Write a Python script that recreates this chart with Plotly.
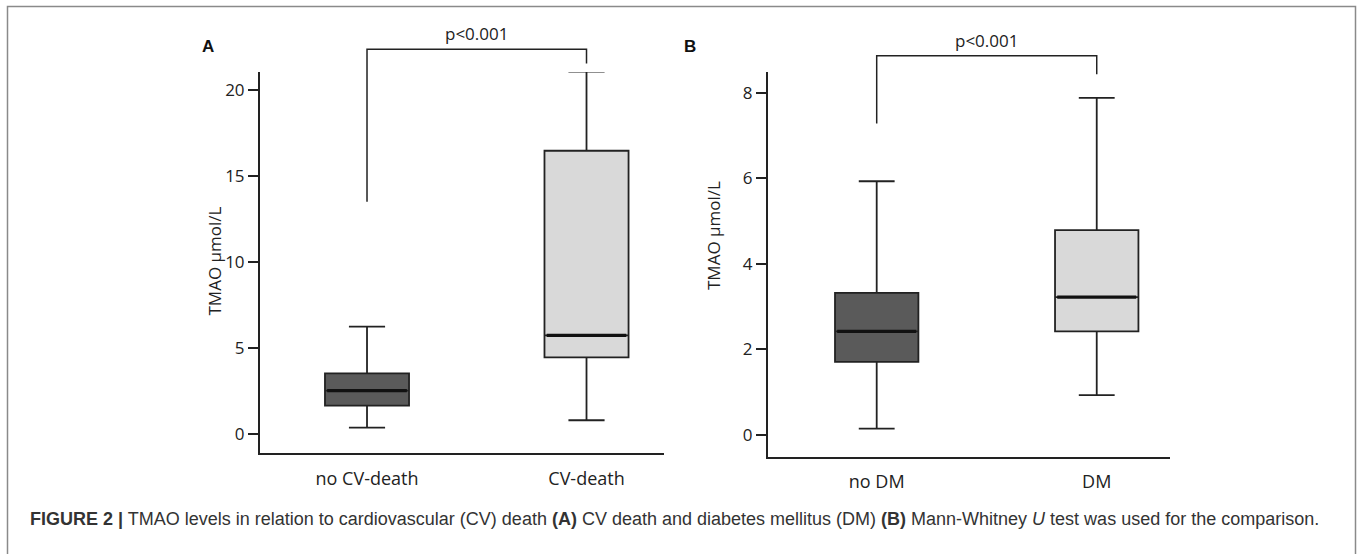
import plotly.graph_objects as go

# ---------------- data ----------------
cats_A = ["no CV-death", "CV-death"]
lowerA = [0.37, 0.80]
q1A = [1.65, 4.46]
medA = [2.52, 5.74]
q3A = [3.53, 16.47]
upperA = [6.24, 21.08]
bracketA = [13.5, 22.37, 21.55]   # left leg end, top, right leg end
pA = "p<0.001"

cats_B = ["no DM", "DM"]
lowerB = [0.15, 0.93]
q1B = [1.71, 2.42]
medB = [2.42, 3.22]
q3B = [3.32, 4.79]
upperB = [5.93, 7.88]
bracketB = [7.28, 8.86, 8.43]
pB = "p<0.001"

ticksA = [0, 5, 10, 15, 20]
ticksB = [0, 2, 4, 6, 8]
ytitle = "TMAO µmol/L"
caption = ("<b>FIGURE 2 |</b> TMAO levels in relation to cardiovascular (CV) death <b>(A)</b> "
           "CV death and diabetes mellitus (DM) <b>(B)</b> Mann-Whitney <i>U</i> test was used for the comparison.")

# ---------------- layout helpers ----------------
W, H = 1358, 554
def fx(p):
    return p / W
def fy(p):
    return 1 - p / H

DARK = "#222222"
FILL = ["#5a5a5a", "#d9d9d9"]
FONT = "Open Sans"

fig = go.Figure()

def add_panel(n, cats, lo, q1, med, q3, up, bracket, ptxt, bw):
    xa = "x" if n == 1 else f"x{n}"
    ya = "y" if n == 1 else f"y{n}"
    xo = f"x{n + 2}"
    yo = f"y{n + 2}"
    for i in range(len(cats)):
        fig.add_trace(go.Box(
            x=[i], q1=[q1[i]], median=[med[i]], q3=[q3[i]],
            lowerfence=[lo[i]], upperfence=[up[i]],
            width=bw, whiskerwidth=0.43, fillcolor=FILL[i],
            line=dict(color=DARK, width=1.8), boxpoints=False,
            xaxis=xa, yaxis=ya, showlegend=False, hoverinfo="skip"))
        fig.add_trace(go.Scatter(
            x=[i - bw / 2 + 0.01, i + bw / 2 - 0.01], y=[med[i], med[i]],
            mode="lines", line=dict(color="#111111", width=3.2),
            xaxis=xa, yaxis=ya, showlegend=False, hoverinfo="skip"))
    # significance bracket (on overlay axes sharing the same scale)
    fig.add_trace(go.Scatter(
        x=[0, 0, 1, 1], y=[bracket[0], bracket[1], bracket[1], bracket[2]],
        mode="lines", line=dict(color=DARK, width=1.5),
        xaxis=xo, yaxis=yo, showlegend=False, hoverinfo="skip"))
    fig.add_annotation(x=0.5, y=bracket[1], xref=xo, yref=yo, text=ptxt,
                       showarrow=False, yanchor="bottom", yshift=2,
                       font=dict(family=FONT, size=17, color=DARK))

add_panel(1, cats_A, lowerA, q1A, medA, q3A, upperA, bracketA, pA, 0.383)
add_panel(2, cats_B, lowerB, q1B, medB, q3B, upperB, bracketB, pB, 0.379)

# axis geometry (pixels)
A = dict(x0=260, x1=664, top=72, bot=453, xr=[-0.4875, 1.353], yr=[-1.105, 21.05])
B = dict(x0=768, x1=1170, top=71.7, bot=456.7, xr=[-0.494, 1.333], yr=[-0.507, 8.49])
OVER_TOP = 15

def axes(g, cats, ticks, n):
    xname = "xaxis" if n == 1 else f"xaxis{n}"
    yname = "yaxis" if n == 1 else f"yaxis{n}"
    xdom = [fx(g["x0"]), fx(g["x1"])]
    ydom = [fy(g["bot"]), fy(g["top"])]
    lay = {}
    lay[xname] = dict(domain=xdom, range=g["xr"], tickvals=[0, 1], ticktext=cats,
                      showline=True, linecolor=DARK, linewidth=2, showgrid=False,
                      zeroline=False, ticks="outside", ticklen=8,
                      tickcolor="rgba(0,0,0,0)", automargin=False,
                      anchor="y" if n == 1 else f"y{n}",
                      tickfont=dict(family=FONT, size=18, color=DARK), fixedrange=True)
    lay[yname] = dict(domain=ydom, range=g["yr"], tickvals=ticks,
                      showline=True, linecolor=DARK, linewidth=2, showgrid=False,
                      zeroline=False, ticks="outside", ticklen=10, tickwidth=1.5,
                      tickcolor=DARK, automargin=False,
                      anchor="x" if n == 1 else f"x{n}",
                      tickfont=dict(family=FONT, size=17, color=DARK), fixedrange=True)
    # overlay axes with identical scale but taller domain
    scale = (g["yr"][1] - g["yr"][0]) / (g["bot"] - g["top"])
    top_val = g["yr"][0] + scale * (g["bot"] - OVER_TOP)
    lay[f"xaxis{n + 2}"] = dict(domain=xdom, range=g["xr"], visible=False,
                                anchor=f"y{n + 2}", fixedrange=True)
    lay[f"yaxis{n + 2}"] = dict(domain=[fy(g["bot"]), fy(OVER_TOP)],
                                range=[g["yr"][0], top_val], visible=False,
                                anchor=f"x{n + 2}", fixedrange=True)
    return lay

fig.update_layout(**axes(A, cats_A, ticksA, 1))
fig.update_layout(**axes(B, cats_B, ticksB, 2))

# panel letters
fig.add_annotation(x=fx(200), y=fy(35), xref="paper", yref="paper", text="<b>A</b>",
                   showarrow=False, font=dict(family="Liberation Sans", size=17, color="#111"))
fig.add_annotation(x=fx(690), y=fy(35), xref="paper", yref="paper", text="<b>B</b>",
                   showarrow=False, font=dict(family="Liberation Sans", size=17, color="#111"))

# y-axis titles
fig.add_annotation(x=fx(200), y=fy(261), xref="paper", yref="paper", text=ytitle,
                   textangle=-90, showarrow=False,
                   font=dict(family=FONT, size=17, color=DARK))
fig.add_annotation(x=fx(713), y=fy(236), xref="paper", yref="paper", text=ytitle,
                   textangle=-90, showarrow=False,
                   font=dict(family=FONT, size=17, color=DARK))

# caption
fig.add_annotation(x=fx(28), y=fy(519), xref="paper", yref="paper", text=caption,
                   xanchor="left", yanchor="middle", showarrow=False,
                   font=dict(family="Liberation Sans", size=18, color="#333333"))

# frame
fig.add_shape(type="rect", xref="paper", yref="paper",
              x0=fx(7.5), x1=fx(1355.5), y0=-0.1, y1=fy(6.5),
              line=dict(color="#8a8a8a", width=1.5))

fig.update_layout(width=W, height=H, margin=dict(l=0, r=0, t=0, b=0),
                  paper_bgcolor="white", plot_bgcolor="rgba(0,0,0,0)", showlegend=False)

fig.write_html("out.html", config={"displayModeBar": False},
               post_script="document.body.style.margin='0px';document.body.style.overflow='hidden';")
